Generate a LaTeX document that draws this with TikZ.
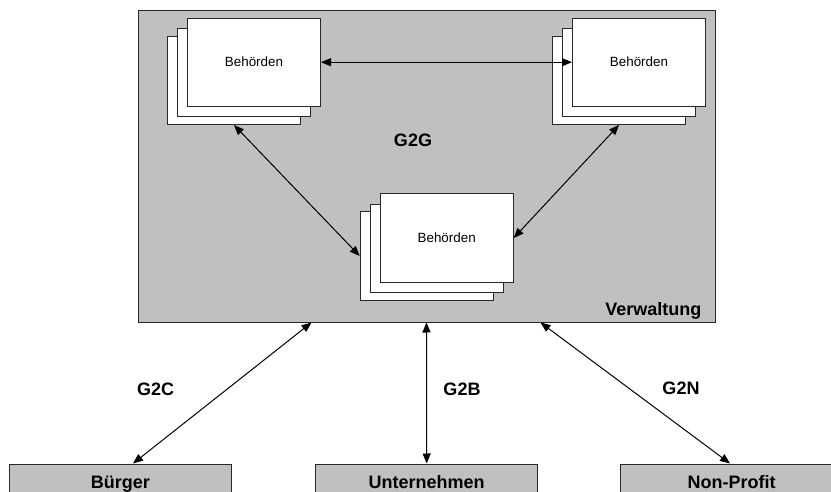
\documentclass[tikz,border=0pt]{standalone}
\usepackage{fontspec}
\setmainfont{Liberation Sans}
\usetikzlibrary{arrows.meta,calc}
\definecolor{boxgray}{RGB}{192,192,192}
\definecolor{edge}{RGB}{40,40,40}
\begin{document}
\begin{tikzpicture}[x=1pt,y=-1pt,
  frame/.style={draw=edge, line width=1pt},
  page/.style={frame, fill=white, minimum width=133pt, minimum height=88pt, inner sep=0pt, font=\fontsize{13.4}{16}\selectfont},
  graybox/.style={frame, fill=boxgray, inner sep=0pt},
  lbl/.style={font=\bfseries\fontsize{18}{21}\selectfont},
  actor/.style={graybox, lbl, minimum width=222pt, minimum height=36pt, text height=13pt, text depth=0pt},
  link/.style={line width=1pt, {Triangle[length=10pt,width=8pt]}-{Triangle[length=10pt,width=8pt]}}
]
\path[use as bounding box, clip] (0,0) rectangle (831,492);

% administration frame
\node[graybox, minimum width=577pt, minimum height=311pt] (verw) at (426.5,166.5) {};
\node[lbl, anchor=base east] (verwlbl) at (705,315) {Verwaltung};

% top-left stack
\node[page] (tlback) at (234,80.5) {};
\node[page] (tlmid) at (244,72.7) {};
\node[page] (tl) at (254,62.2) {Behörden};

% top-right stack
\node[page] (trback) at (619,80.5) {};
\node[page] (trmid) at (629,72.7) {};
\node[page] (tr) at (639,62.2) {Behörden};

% bottom stack
\node[page] (bback) at (426.7,256) {};
\node[page] (bmid) at (436.7,248.5) {};
\node[page] (b) at (446.7,238) {Behörden};

\node[lbl] (g2g) at (413,140) {G2G};

\draw[link] (tl.east) -- (tr.west);
\draw[link] (tlback.south) -- (bback.west);
\draw[link] (b.east) -- (trback.south);

% actors
\node[actor] (buerger) at (120.5,482) {Bürger};
\node[actor] (unt) at (426.7,482) {Unternehmen};
\node[actor] (np) at (731.5,482) {Non-Profit};

\draw[link] ($(verw.south)+(-115,0)$) -- ($(buerger.north)+(12.5,0)$);
\draw[link] (verw.south) -- (unt.north);
\draw[link] ($(verw.south)+(114,0)$) -- ($(np.north)+(-1.5,0)$);

\node[lbl] (g2c) at (155.7,389) {G2C};
\node[lbl] (g2b) at (462,389) {G2B};
\node[lbl] (g2n) at (681,388) {G2N};
\end{tikzpicture}
\end{document}
